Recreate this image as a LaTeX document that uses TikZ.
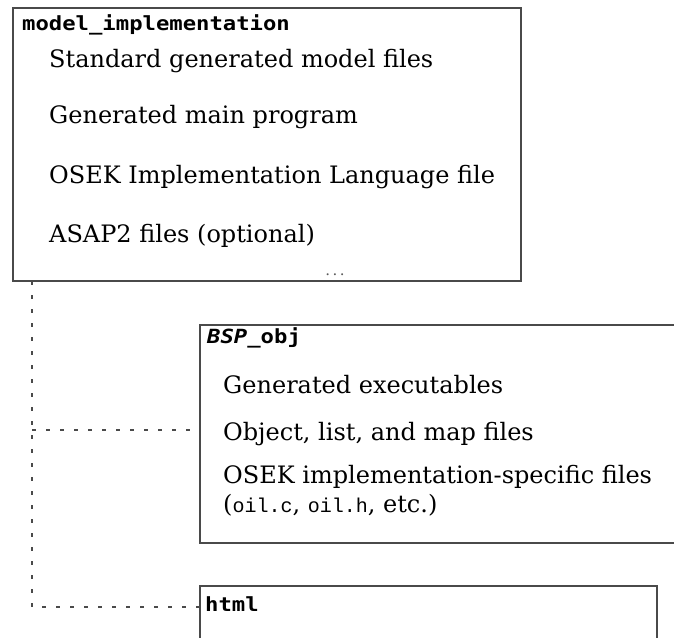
\documentclass[tikz,border=0pt]{standalone}
\usepackage{fontspec}
\setmainfont{DejaVu Serif}
\newfontfamily\titlefont[FakeStretch=1.14]{DejaVu Sans Mono}
\newfontfamily\codefont{Liberation Mono}
\definecolor{boxgray}{HTML}{4A4A4A}
\definecolor{linkgray}{HTML}{4A4A4A}
\newcommand\code[1]{{\codefont\fontsize{20}{24}\selectfont #1}}
\begin{document}
\begin{tikzpicture}[x=1pt,y=-1pt,
  box/.style={draw=boxgray,line width=2.2pt,rectangle,anchor=north west,inner sep=0pt},
  link/.style={draw=linkgray,line width=2.2pt,dash pattern=on 4pt off 10pt},
  lbl/.style={anchor=base west,inner sep=0pt,font=\fontsize{24}{29}\selectfont},
  ttl/.style={anchor=base west,inner sep=0pt,font=\titlefont\bfseries\fontsize{19.5}{23}\selectfont}]
\useasboundingbox (0,0) rectangle (674,637);
\clip (0,0) rectangle (674,637);
% boxes
\node[box,minimum width=508pt,minimum height=273pt] (impl) at (12,7) {};
\node[box,minimum width=491pt,minimum height=218pt] (bsp) at (199,324) {};
\node[box,minimum width=457pt,minimum height=80pt] (html) at (199,585) {};
% model_implementation contents
\node[ttl] (implttl) at (22,30) {model\_implementation};
\node[lbl] (i1) at (49,67) {Standard generated model files};
\node[lbl] (i2) at (49,123) {Generated main program};
\node[lbl] (i3) at (49,183) {OSEK Implementation Language file};
\node[lbl] (i4) at (49,242) {ASAP2 files (optional)};
\node[anchor=base,inner sep=0pt,text=gray!70!black,font=\fontsize{15}{15}\selectfont] (more) at (335,275) {.\,.\,.};
% BSP_obj contents
\node[ttl] (bspttl) at (207,343) {\itshape BSP\upshape\_obj};
\node[lbl] (b1) at (223,393) {Generated executables};
\node[lbl] (b2) at (223,440) {Object, list, and map files};
\node[lbl] (b3) at (223,483) {OSEK implementation-specific files};
\node[lbl] (b4) at (223,512) {(\code{oil.c}, \code{oil.h}, etc.)};
% html
\node[ttl] (htmlttl) at (205,611) {html};
% connectors
\coordinate (trunk) at (32,281);
\coordinate (j1) at (32,430);
\coordinate (j2) at (32,607);
\draw[link] (trunk) -- (j2) -- (j2 -| html.west);
\draw[link] (j1) -- (j1 -| bsp.west);
\end{tikzpicture}
\end{document}
